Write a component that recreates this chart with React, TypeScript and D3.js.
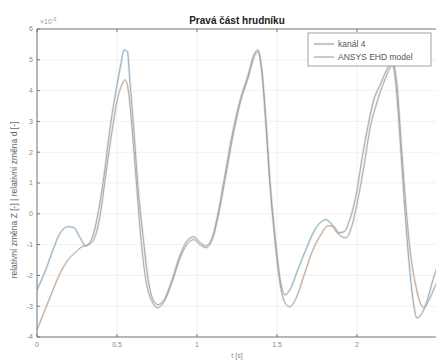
import React from 'react';
import * as d3 from 'd3';

// time [s] and relative change (x1e-3)
const tKanal = [0, 0.05, 0.1, 0.145, 0.195, 0.23, 0.27, 0.305, 0.345, 0.38, 0.42, 0.455, 0.495, 0.52, 0.545, 0.565, 0.58, 0.605, 0.63, 0.665, 0.695, 0.725, 0.755, 0.795, 0.845, 0.895, 0.945, 0.98, 1.02, 1.055, 1.095, 1.13, 1.175, 1.22, 1.27, 1.32, 1.355, 1.38, 1.405, 1.43, 1.455, 1.49, 1.52, 1.55, 1.58, 1.63, 1.68, 1.73, 1.77, 1.805, 1.845, 1.88, 1.92, 1.955, 1.995, 2.03, 2.07, 2.105, 2.145, 2.18, 2.215, 2.24, 2.265, 2.295, 2.325, 2.35, 2.375, 2.4, 2.44, 2.475, 2.5];
const kanal4 = [-2.47, -1.88, -1.17, -0.62, -0.42, -0.45, -0.78, -1.04, -0.78, -0.03, 1.27, 2.73, 4.03, 4.74, 5.32, 5.26, 4.35, 2.73, 0.94, -0.84, -2.14, -2.79, -2.95, -2.79, -2.14, -1.33, -0.84, -0.75, -0.94, -1.04, -0.78, -0.03, 1.27, 2.56, 3.7, 4.51, 5.16, 5.32, 4.68, 3.05, 1.1, -0.84, -2.14, -2.63, -2.47, -1.82, -1.17, -0.58, -0.29, -0.19, -0.36, -0.62, -0.58, -0.19, 0.62, 1.75, 2.89, 3.7, 4.19, 4.61, 4.9, 4.35, 2.73, 0.45, -1.56, -2.79, -3.38, -3.28, -2.79, -2.14, -1.75];

const tModel = [0, 0.05, 0.1, 0.145, 0.195, 0.245, 0.28, 0.32, 0.355, 0.395, 0.43, 0.47, 0.505, 0.53, 0.55, 0.57, 0.595, 0.62, 0.65, 0.68, 0.72, 0.755, 0.8, 0.845, 0.895, 0.945, 0.98, 1.02, 1.055, 1.095, 1.13, 1.175, 1.22, 1.27, 1.32, 1.355, 1.38, 1.405, 1.43, 1.455, 1.49, 1.52, 1.55, 1.58, 1.62, 1.67, 1.72, 1.77, 1.82, 1.855, 1.895, 1.93, 1.97, 2.005, 2.045, 2.08, 2.12, 2.155, 2.195, 2.225, 2.25, 2.275, 2.305, 2.335, 2.37, 2.395, 2.42, 2.45, 2.5];
const ansys = [-3.77, -3.12, -2.47, -1.92, -1.49, -1.23, -1.07, -1.01, -0.84, -0.03, 1.27, 2.73, 3.77, 4.19, 4.35, 4.03, 2.73, 1.1, -0.84, -2.14, -2.86, -3.05, -2.79, -2.2, -1.43, -0.94, -0.84, -1.01, -1.1, -0.84, -0.13, 1.1, 2.4, 3.6, 4.42, 5.06, 5.26, 4.61, 2.99, 1.04, -1.01, -2.31, -2.89, -3.02, -2.73, -1.98, -1.23, -0.71, -0.39, -0.42, -0.71, -0.78, -0.36, 0.45, 1.59, 2.73, 3.54, 4.09, 4.61, 4.87, 4.19, 2.4, 0.29, -1.33, -2.4, -2.89, -3.05, -2.79, -2.21];

const xTicks = [0, 0.5, 1, 1.5, 2, 2.5];
const yTicks = [-4, -3, -2, -1, 0, 1, 2, 3, 4, 5, 6];
const seriesNames = ['kanál 4', 'ANSYS EHD model'];

const W = 436;
const H = 362;
const M = { left: 37, right: 437, top: 29, bottom: 337 };
const FONT = 'Liberation Sans, Arial, sans-serif';

const App = () => {
  const x = d3.scaleLinear().domain([0, 2.5]).range([M.left, M.right]);
  const y = d3.scaleLinear().domain([-4, 6]).range([M.bottom, M.top]);

  const line = d3.line<[number, number]>()
    .x(d => x(d[0]))
    .y(d => y(d[1]))
    .curve(d3.curveMonotoneX);

  const kanalPath = line(tKanal.map((t, i) => [t, kanal4[i]])) || '';
  const ansysPath = line(tModel.map((t, i) => [t, ansys[i]])) || '';

  const series = [
    { name: seriesNames[0], d: kanalPath, halo: '#b4daf3' },
    { name: seriesNames[1], d: ansysPath, halo: '#f6d2b8' },
  ];

  return (
    <svg width={W} height={H} style={{ position: 'absolute', left: 0, top: 0, background: '#fff' }}>
      <defs>
        <clipPath id="plot">
          <rect x={M.left} y={M.top} width={M.right - M.left} height={M.bottom - M.top} />
        </clipPath>
      </defs>

      {/* grid */}
      {yTicks.map(v => (
        <line key={'gy' + v} x1={M.left} x2={M.right} y1={y(v)} y2={y(v)} stroke="#eeeeee" strokeWidth={0.8} />
      ))}
      {xTicks.map(v => (
        <line key={'gx' + v} x1={x(v)} x2={x(v)} y1={M.top} y2={M.bottom} stroke="#eeeeee" strokeWidth={0.8} />
      ))}

      {/* data */}
      <g clipPath="url(#plot)" fill="none">
        {series.map(s => (
          <path key={'h' + s.name} d={s.d} stroke={s.halo} strokeWidth={2.4} opacity={0.55} />
        ))}
        {series.map(s => (
          <path key={'l' + s.name} d={s.d} stroke="#9a9a9a" strokeWidth={0.8} />
        ))}
      </g>

      {/* axes box */}
      <line x1={M.left} x2={M.right} y1={M.bottom} y2={M.bottom} stroke="#777" strokeWidth={1} />
      <line x1={M.left} x2={M.right} y1={M.top} y2={M.top} stroke="#777" strokeWidth={1} />
      <line x1={M.left} x2={M.left} y1={M.top} y2={M.bottom} stroke="#777" strokeWidth={1} />

      {/* ticks */}
      {yTicks.map(v => (
        <g key={'ty' + v}>
          <line x1={M.left} x2={M.left + 3} y1={y(v)} y2={y(v)} stroke="#777" />
          <text x={M.left - 4} y={y(v)} dy="0.35em" textAnchor="end" fontSize={7} fill="#888" fontFamily={FONT}>{v}</text>
        </g>
      ))}
      {xTicks.map(v => (
        <g key={'tx' + v}>
          <line x1={x(v)} x2={x(v)} y1={M.bottom} y2={M.bottom - 3} stroke="#777" />
          <line x1={x(v)} x2={x(v)} y1={M.top} y2={M.top + 3} stroke="#777" />
          {x(v) < W - 6 && (
            <text x={x(v)} y={M.bottom + 10} textAnchor="middle" fontSize={7} fill="#888" fontFamily={FONT}>{v}</text>
          )}
        </g>
      ))}

      {/* exponent */}
      <text x={M.left + 3} y={M.top - 5} fontSize={7} fill="#999" fontFamily={FONT}>
        ×10<tspan dy={-3} fontSize={5}>-3</tspan>
      </text>

      {/* title */}
      <text x={(M.left + M.right) / 2} y={M.top - 5} textAnchor="middle" fontSize={10} fontWeight="bold" fill="#222" fontFamily={FONT}>
        Pravá část hrudníku
      </text>

      {/* axis labels */}
      <text x={(M.left + M.right) / 2} y={H - 4} textAnchor="middle" fontSize={7} fill="#888" fontFamily={FONT}>t [s]</text>
      <text transform={`translate(17,${(M.top + M.bottom) / 2 + 17}) rotate(-90)`} textAnchor="middle" fontSize={8.5} fill="#666" fontFamily={FONT}>
        relativní změna Z [-] | relativní změna d [-]
      </text>

      {/* legend */}
      <g>
        <rect x={308} y={33} width={123} height={33} fill="#fff" stroke="#8a8a8a" strokeWidth={0.8} />
        {series.map((s, i) => (
          <g key={'lg' + s.name} transform={`translate(0,${44 + i * 13})`}>
            <line x1={314} x2={334} y1={0} y2={0} stroke={s.halo} strokeWidth={2.4} opacity={0.55} />
            <line x1={314} x2={334} y1={0} y2={0} stroke="#9a9a9a" strokeWidth={0.8} />
            <text x={338} y={0} dy="0.35em" fontSize={8.5} fill="#555" fontFamily={FONT}>{s.name}</text>
          </g>
        ))}
      </g>
    </svg>
  );
};

export default App;
